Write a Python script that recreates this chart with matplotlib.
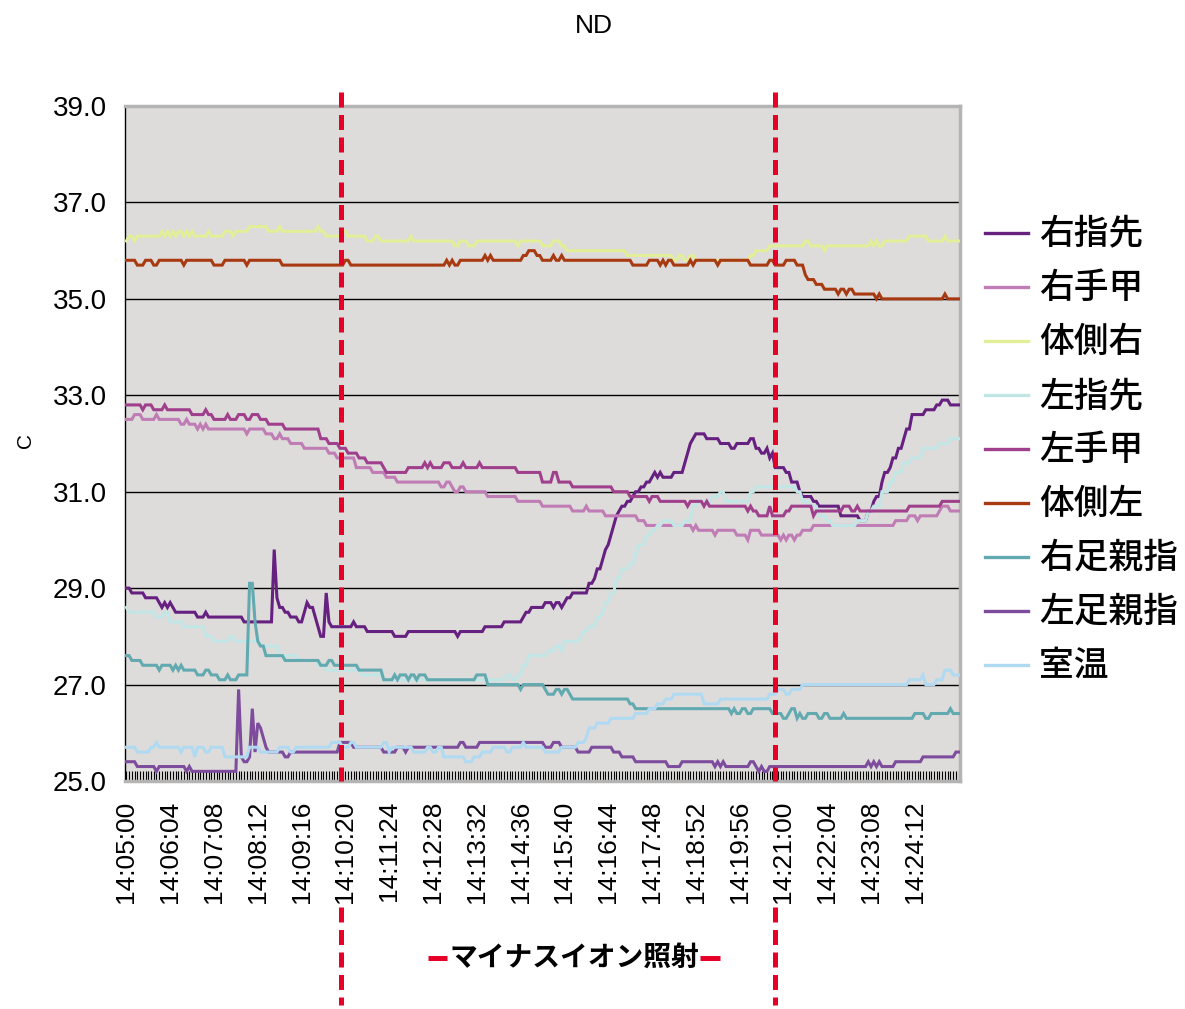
import numpy as np
import matplotlib
matplotlib.use("Agg")
import matplotlib.pyplot as plt
from matplotlib.lines import Line2D

# ---- data -------------------------------------------------------------
N_SAMPLES = 305          # one reading every 4 s from 14:05:00
TIME_LABELS = ["14:05:00", "14:06:04", "14:07:08", "14:08:12", "14:09:16",
               "14:10:20", "14:11:24", "14:12:28", "14:13:32", "14:14:36",
               "14:15:40", "14:16:44", "14:17:48", "14:18:52", "14:19:56",
               "14:21:00", "14:22:04", "14:23:08", "14:24:12"]
LABEL_STEP = 16          # samples between time labels
IRRADIATION = ["14:10:13", "14:20:48"]   # negative-ion exposure start / end

SERIES_NAMES = ["右指先", "右手甲", "体側右", "左指先", "左手甲",
                "体側左", "右足親指", "左足親指", "室温"]
COLORS = ["#662080", "#C07CB4", "#E2EE98", "#C2E6E6", "#A0408C",
          "#A83A12", "#62AAB0", "#7E4C9C", "#B0DAF2"]

# readings as (sample index where the value changes, temperature °C)
right_fingertip = [
    (0, 29.0), (2, 28.9), (7, 28.8), (12, 28.7), (13, 28.6), (14, 28.7), (15, 28.6),
    (16, 28.7), (17, 28.6), (18, 28.5), (26, 28.4), (29, 28.5), (30, 28.4), (43, 28.3),
    (54, 29.8), (55, 28.8), (56, 28.6), (58, 28.5), (60, 28.4), (63, 28.3), (65, 28.5),
    (66, 28.7), (67, 28.6), (69, 28.4), (70, 28.2), (71, 28.0), (73, 28.9), (74, 28.3),
    (75, 28.2), (83, 28.3), (84, 28.2), (88, 28.1), (98, 28.0), (103, 28.1), (121, 28.0),
    (122, 28.1), (131, 28.2), (138, 28.3), (145, 28.4), (146, 28.5), (148, 28.6),
    (153, 28.7), (156, 28.6), (157, 28.7), (159, 28.6), (160, 28.7), (161, 28.8),
    (163, 28.9), (169, 29.1), (171, 29.2), (172, 29.4), (174, 29.6), (175, 29.8),
    (176, 29.9), (177, 30.1), (178, 30.3), (179, 30.5), (180, 30.6), (181, 30.7),
    (183, 30.8), (185, 30.9), (186, 31.0), (188, 31.1), (190, 31.2), (192, 31.3),
    (193, 31.4), (194, 31.3), (195, 31.4), (196, 31.3), (200, 31.4), (204, 31.6),
    (205, 31.8), (206, 32.0), (207, 32.1), (208, 32.2), (212, 32.1), (217, 32.0),
    (221, 31.9), (223, 32.0), (228, 32.1), (230, 31.9), (232, 31.8), (234, 31.9),
    (235, 31.7), (236, 31.8), (237, 31.5), (241, 31.4), (243, 31.2), (246, 31.0),
    (247, 30.9), (251, 30.8), (253, 30.7), (261, 30.5), (268, 30.4), (271, 30.6),
    (273, 30.8), (274, 30.9), (276, 31.2), (277, 31.4), (279, 31.5), (280, 31.7),
    (282, 31.9), (284, 32.1), (285, 32.3), (287, 32.6), (292, 32.7), (296, 32.8),
    (298, 32.9), (301, 32.8)]

right_back = [
    (0, 32.5), (3, 32.6), (6, 32.5), (11, 32.6), (12, 32.5), (20, 32.4), (22, 32.5),
    (23, 32.4), (26, 32.3), (27, 32.4), (28, 32.3), (29, 32.4), (30, 32.3), (44, 32.2),
    (45, 32.3), (51, 32.2), (54, 32.1), (56, 32.2), (57, 32.1), (60, 32.0), (65, 31.9),
    (74, 31.8), (77, 31.7), (84, 31.5), (90, 31.4), (95, 31.3), (99, 31.2), (115, 31.1),
    (117, 31.2), (119, 31.1), (120, 31.0), (122, 31.1), (124, 31.0), (132, 30.9),
    (143, 30.8), (152, 30.7), (163, 30.6), (168, 30.7), (169, 30.6), (175, 30.5),
    (187, 30.4), (190, 30.3), (207, 30.2), (208, 30.3), (209, 30.2), (215, 30.1),
    (216, 30.2), (223, 30.1), (227, 30.0), (228, 30.2), (232, 30.1), (239, 30.0),
    (240, 30.1), (241, 30.0), (242, 30.1), (244, 30.0), (245, 30.1), (247, 30.2),
    (251, 30.3), (281, 30.4), (286, 30.5), (289, 30.4), (290, 30.5), (297, 30.6),
    (298, 30.7), (301, 30.6)]

side_right = [
    (0, 36.2), (1, 36.3), (3, 36.2), (4, 36.3), (13, 36.4), (14, 36.3), (15, 36.4),
    (16, 36.3), (17, 36.4), (18, 36.3), (19, 36.4), (21, 36.3), (22, 36.4), (23, 36.3),
    (24, 36.4), (25, 36.3), (30, 36.4), (31, 36.3), (36, 36.4), (39, 36.3), (40, 36.4),
    (45, 36.5), (52, 36.4), (56, 36.5), (57, 36.4), (70, 36.5), (71, 36.4), (73, 36.3),
    (79, 36.4), (81, 36.3), (88, 36.2), (91, 36.3), (93, 36.2), (104, 36.3), (105, 36.2),
    (120, 36.1), (122, 36.2), (125, 36.1), (128, 36.2), (143, 36.1), (144, 36.2),
    (152, 36.1), (156, 36.2), (159, 36.1), (161, 36.0), (183, 35.9), (200, 35.8),
    (202, 35.9), (204, 35.8), (206, 35.9), (208, 35.8), (228, 35.9), (230, 36.0),
    (235, 36.1), (248, 36.2), (250, 36.1), (255, 36.0), (256, 36.1), (272, 36.2),
    (273, 36.1), (274, 36.2), (275, 36.1), (277, 36.2), (286, 36.3), (293, 36.2),
    (299, 36.3), (300, 36.2)]

left_fingertip = [
    (0, 28.6), (1, 28.5), (11, 28.4), (14, 28.5), (16, 28.3), (21, 28.2), (29, 28.0),
    (32, 27.9), (38, 28.0), (40, 27.9), (49, 27.8), (56, 27.6), (63, 27.5), (70, 27.4),
    (73, 27.3), (86, 27.2), (94, 27.1), (139, 27.2), (141, 27.1), (143, 27.2),
    (145, 27.4), (147, 27.6), (154, 27.7), (157, 27.8), (159, 27.7), (160, 27.9),
    (166, 28.0), (167, 28.1), (169, 28.2), (172, 28.4), (174, 28.5), (175, 28.7),
    (177, 28.9), (179, 29.2), (181, 29.4), (184, 29.5), (186, 29.7), (187, 29.9),
    (190, 30.1), (192, 30.2), (194, 30.3), (196, 30.4), (200, 30.3), (204, 30.4),
    (207, 30.7), (209, 30.8), (214, 30.9), (217, 31.0), (219, 30.8), (228, 31.0),
    (230, 31.1), (245, 31.0), (247, 30.8), (250, 30.7), (253, 30.5), (256, 30.4),
    (258, 30.3), (267, 30.4), (271, 30.6), (273, 30.7), (276, 31.0), (279, 31.2),
    (281, 31.4), (284, 31.6), (287, 31.7), (291, 31.9), (297, 32.0), (301, 32.1)]

left_back = [
    (0, 32.8), (6, 32.7), (7, 32.8), (10, 32.7), (14, 32.8), (15, 32.7), (24, 32.6),
    (29, 32.7), (30, 32.6), (32, 32.5), (37, 32.6), (38, 32.5), (41, 32.6), (44, 32.5),
    (46, 32.6), (49, 32.5), (52, 32.4), (58, 32.3), (71, 32.1), (74, 32.0), (78, 31.9),
    (81, 31.8), (85, 31.7), (88, 31.6), (94, 31.5), (95, 31.4), (103, 31.5), (109, 31.6),
    (110, 31.5), (111, 31.6), (112, 31.5), (116, 31.6), (119, 31.5), (123, 31.6),
    (124, 31.5), (129, 31.6), (130, 31.5), (143, 31.4), (152, 31.2), (156, 31.4),
    (158, 31.2), (163, 31.1), (178, 31.0), (184, 30.9), (191, 30.8), (192, 30.9),
    (195, 30.8), (205, 30.7), (206, 30.8), (211, 30.7), (212, 30.8), (213, 30.7),
    (227, 30.6), (228, 30.7), (229, 30.6), (231, 30.5), (235, 30.7), (236, 30.5),
    (241, 30.6), (243, 30.7), (251, 30.5), (252, 30.6), (262, 30.7), (265, 30.6),
    (267, 30.7), (268, 30.6), (286, 30.7), (298, 30.8)]

side_left = [
    (0, 35.8), (4, 35.7), (7, 35.8), (10, 35.7), (12, 35.8), (21, 35.7), (22, 35.8),
    (32, 35.7), (36, 35.8), (44, 35.7), (45, 35.8), (57, 35.7), (80, 35.8), (82, 35.7),
    (117, 35.8), (118, 35.7), (119, 35.8), (120, 35.7), (122, 35.8), (131, 35.9),
    (132, 35.8), (133, 35.9), (134, 35.8), (145, 35.9), (147, 36.0), (150, 35.9),
    (152, 35.8), (156, 35.9), (157, 35.8), (159, 35.9), (160, 35.8), (185, 35.7),
    (191, 35.8), (195, 35.7), (196, 35.8), (197, 35.7), (198, 35.8), (200, 35.7),
    (206, 35.8), (207, 35.7), (208, 35.8), (216, 35.7), (217, 35.8), (228, 35.7),
    (235, 35.8), (237, 35.7), (241, 35.8), (245, 35.7), (248, 35.5), (249, 35.4),
    (252, 35.3), (255, 35.2), (260, 35.1), (261, 35.2), (263, 35.1), (264, 35.2),
    (266, 35.1), (274, 35.0), (275, 35.1), (276, 35.0), (299, 35.1), (300, 35.0)]

right_toe = [
    (0, 27.6), (2, 27.5), (6, 27.4), (12, 27.3), (13, 27.4), (17, 27.3), (18, 27.4),
    (19, 27.3), (20, 27.4), (21, 27.3), (26, 27.2), (29, 27.3), (31, 27.2), (34, 27.1),
    (37, 27.2), (38, 27.1), (41, 27.2), (45, 29.1), (47, 28.3), (48, 27.9), (49, 27.8),
    (51, 27.6), (58, 27.5), (71, 27.4), (74, 27.5), (76, 27.4), (85, 27.3), (94, 27.1),
    (98, 27.2), (99, 27.1), (100, 27.2), (103, 27.1), (104, 27.2), (106, 27.1),
    (107, 27.2), (110, 27.1), (128, 27.2), (132, 27.0), (144, 26.9), (145, 27.0),
    (153, 26.9), (154, 26.8), (157, 26.9), (159, 26.8), (160, 26.9), (162, 26.8),
    (163, 26.7), (184, 26.6), (186, 26.5), (221, 26.4), (222, 26.5), (223, 26.4),
    (225, 26.5), (227, 26.4), (229, 26.5), (236, 26.4), (240, 26.3), (242, 26.4),
    (243, 26.5), (245, 26.3), (246, 26.4), (247, 26.3), (249, 26.4), (253, 26.3),
    (255, 26.4), (257, 26.3), (262, 26.4), (263, 26.3), (288, 26.4), (292, 26.3),
    (294, 26.4), (301, 26.5), (302, 26.4)]

left_toe = [
    (0, 25.4), (4, 25.3), (11, 25.2), (12, 25.3), (22, 25.2), (23, 25.3), (24, 25.2),
    (41, 26.9), (42, 25.5), (43, 25.4), (45, 25.5), (46, 26.5), (47, 25.6), (48, 26.2),
    (49, 26.1), (50, 25.9), (51, 25.7), (52, 25.6), (58, 25.5), (60, 25.6), (78, 25.8),
    (83, 25.7), (94, 25.6), (99, 25.7), (102, 25.6), (103, 25.7), (122, 25.8),
    (124, 25.7), (129, 25.8), (153, 25.7), (156, 25.8), (159, 25.7), (165, 25.6),
    (170, 25.7), (178, 25.6), (181, 25.5), (186, 25.4), (198, 25.3), (203, 25.4),
    (215, 25.3), (216, 25.4), (217, 25.3), (218, 25.4), (219, 25.3), (228, 25.4),
    (230, 25.3), (231, 25.2), (232, 25.3), (233, 25.2), (235, 25.3), (271, 25.4),
    (272, 25.3), (273, 25.4), (274, 25.3), (275, 25.4), (276, 25.3), (281, 25.4),
    (291, 25.5), (303, 25.6)]

room = [
    (0, 25.7), (4, 25.6), (9, 25.7), (11, 25.8), (12, 25.7), (20, 25.6), (21, 25.7),
    (25, 25.5), (26, 25.7), (29, 25.6), (31, 25.7), (36, 25.5), (45, 25.7), (49, 25.6),
    (56, 25.7), (60, 25.6), (62, 25.7), (75, 25.8), (79, 25.7), (82, 25.8), (84, 25.7),
    (94, 25.8), (96, 25.6), (97, 25.7), (105, 25.6), (110, 25.7), (112, 25.6),
    (114, 25.7), (116, 25.5), (124, 25.4), (127, 25.5), (130, 25.6), (134, 25.7),
    (139, 25.6), (141, 25.7), (145, 25.8), (146, 25.7), (153, 25.6), (159, 25.7),
    (165, 25.8), (168, 25.9), (169, 26.1), (172, 26.2), (177, 26.3), (186, 26.4),
    (191, 26.5), (194, 26.6), (197, 26.7), (200, 26.8), (211, 26.6), (217, 26.7),
    (235, 26.8), (238, 26.9), (241, 26.8), (243, 26.9), (247, 27.0), (286, 27.1),
    (291, 27.2), (292, 27.0), (296, 27.1), (299, 27.3), (302, 27.2)]

SERIES = [right_fingertip, right_back, side_right, left_fingertip, left_back,
          side_left, right_toe, left_toe, room]


def expand(changes, n=N_SAMPLES):
    """Hold each reading until the next recorded change."""
    out = np.empty(n)
    for k, (start, value) in enumerate(changes):
        stop = changes[k + 1][0] if k + 1 < len(changes) else n
        out[start:stop] = value
    return out


def to_sample(hms):
    h, m, s = (int(p) for p in hms.split(":"))
    return ((h - 14) * 3600 + (m - 5) * 60 + s) / 4.0


# ---- figure -----------------------------------------------------------
W, H = 1185, 1009
fig = plt.figure(figsize=(W / 100, H / 100), dpi=100)
fig.patch.set_facecolor("white")


def fx(px):
    return px / W


def fy(px):
    return 1 - px / H


AX_TOP, AX_BOTTOM = 106, 781
ax = fig.add_axes([fx(125), fy(AX_BOTTOM), fx(960) - fx(125), fy(AX_TOP) - fy(AX_BOTTOM)])
ax.set_facecolor("#DEDCDB")

x = np.arange(N_SAMPLES)
for changes, color in zip(SERIES, COLORS):
    ax.plot(x, expand(changes), color=color, lw=2.2, solid_joinstyle="miter", zorder=3)

ax.set_xlim(-0.5, N_SAMPLES - 0.5)
ax.set_ylim(25, 39)
ax.set_yticks(np.arange(25, 39.1, 2))
ax.set_yticklabels([f"{v:.1f}" for v in np.arange(25, 39.1, 2)])
ax.yaxis.grid(True, color="black", lw=1.0)
ax.set_axisbelow(True)

ax.set_xticks(np.arange(0, len(TIME_LABELS) * LABEL_STEP, LABEL_STEP))
ax.set_xticklabels(TIME_LABELS, rotation=90, va="top", ha="center")
ax.set_xticks(x, minor=True)
ax.tick_params(axis="x", which="both", direction="in", length=7, width=0.8,
               color="black", pad=14, labelsize=19)
ax.tick_params(axis="y", length=0, pad=13, labelsize=20)
for lab in ax.get_xticklabels() + ax.get_yticklabels():
    lab.set_fontfamily("Liberation Sans")

ax.spines["left"].set_color("black")
ax.spines["left"].set_linewidth(1.0)
for side in ("top", "right", "bottom"):
    ax.spines[side].set_color("#B4B4B4")
    ax.spines[side].set_linewidth(2.5)


def px_to_axes_y(py):
    return (AX_BOTTOM - py) / (AX_BOTTOM - AX_TOP)


# exposure markers: through the plot, then again below the time labels
for t in IRRADIATION:
    xs = to_sample(t)
    for top, bottom in ((92, AX_BOTTOM), (907, 1005)):
        ax.plot([xs, xs], [px_to_axes_y(top), px_to_axes_y(bottom)],
                transform=ax.get_xaxis_transform(), color="#E60028", lw=3.6,
                linestyle=(0, (3.0, 1.5)), clip_on=False, zorder=5,
                dash_capstyle="butt")

# title and axis caption
fig.text(fx(594), fy(26), "ND", ha="center", va="center", fontsize=19,
         family="Liberation Sans")
fig.text(fx(25), fy(440), "C", rotation=90, ha="center", va="center", fontsize=15,
         family="Liberation Sans")

# legend
for i, (name, color) in enumerate(zip(SERIES_NAMES, COLORS)):
    ypos = fy(233 + 54 * i)
    fig.add_artist(Line2D([fx(985), fx(1028)], [ypos, ypos], color=color, lw=2.4))
    fig.text(fx(1039), fy(233 + 54 * i + 1), name, ha="left", va="center", fontsize=25,
             fontweight="medium", family=["Noto Sans CJK JP", "DejaVu Sans"])

# exposure caption
fig.text(fx(574), fy(958), "マイナスイオン照射", ha="center", va="center",
         fontsize=20, fontweight="bold", family=["Noto Sans CJK JP", "DejaVu Sans"])
for x0, x1 in ((428, 447), (700, 720)):
    fig.add_artist(Line2D([fx(x0), fx(x1)], [fy(958), fy(958)], color="#E60028",
                          lw=3.6, solid_capstyle="butt"))

fig.savefig("out.png", dpi=100, facecolor="white")
